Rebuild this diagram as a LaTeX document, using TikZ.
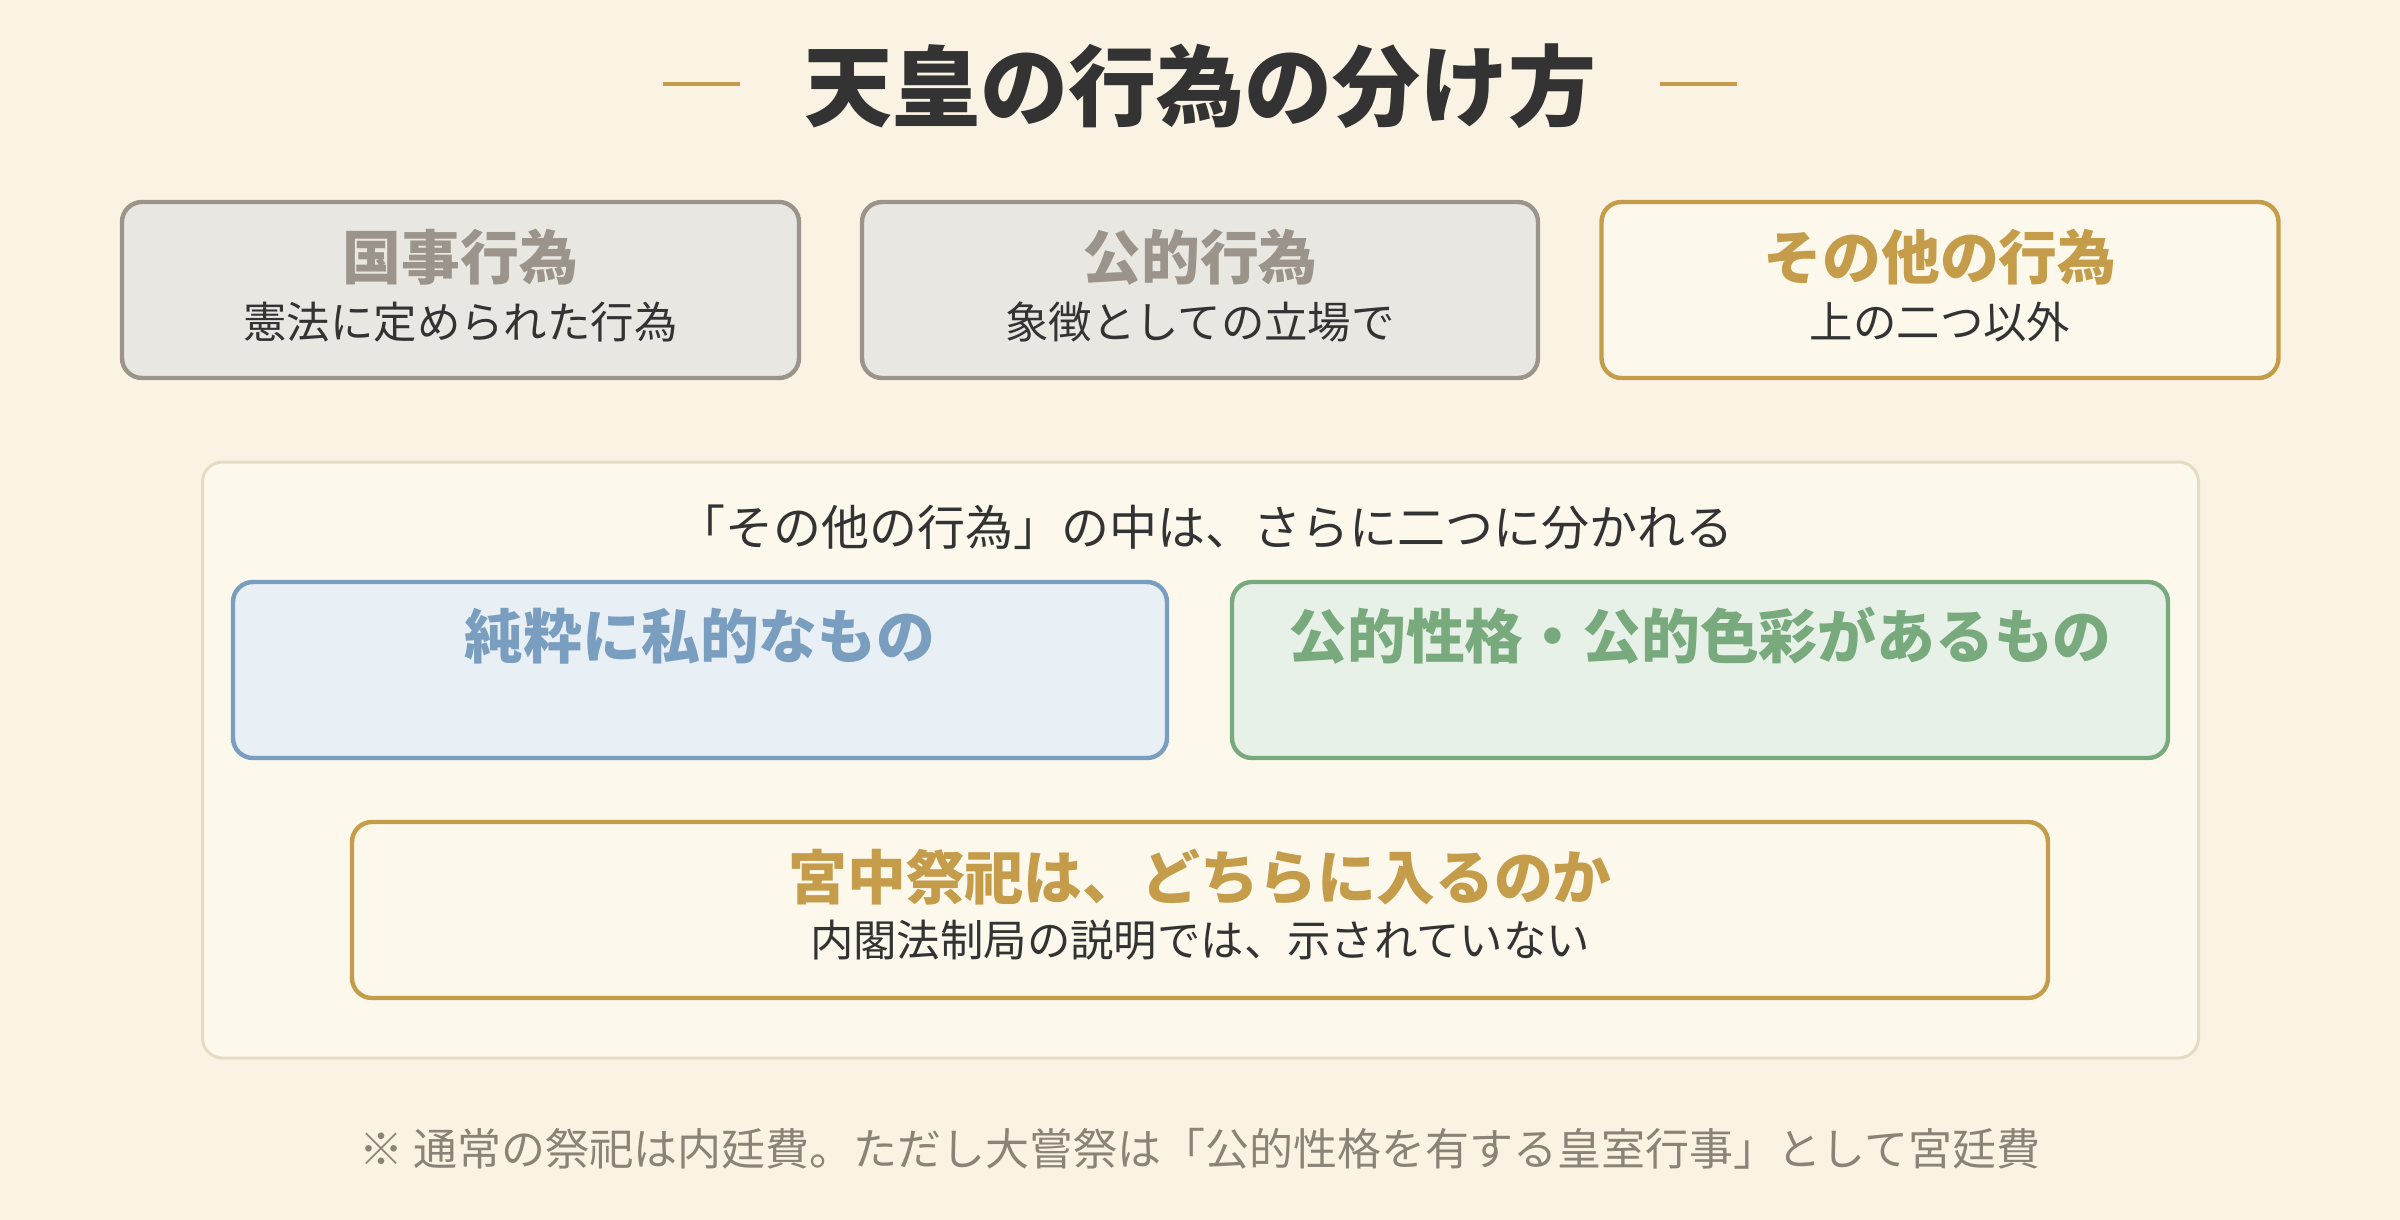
\documentclass[tikz,border=0pt]{standalone}
\usepackage{fontspec}
\setmainfont{Noto Sans CJK JP}
\definecolor{bg}{HTML}{FAF3E3}
\definecolor{ink}{HTML}{333333}
\definecolor{gold}{HTML}{C49C4A}
\definecolor{goldfill}{HTML}{FDF8EC}
\definecolor{grayline}{HTML}{9A948A}
\definecolor{grayfill}{HTML}{E9E7E2}
\definecolor{panelline}{HTML}{E6DCC6}
\definecolor{blueline}{HTML}{7A9EBF}
\definecolor{bluefill}{HTML}{E8EFF5}
\definecolor{greenline}{HTML}{78AA7E}
\definecolor{greenfill}{HTML}{E8F1E7}
\definecolor{note}{HTML}{8A8378}
\tikzset{
  card/.style={draw, line width=2.2pt, rounded corners=10pt, inner sep=0pt},
  graycard/.style={card, draw=grayline, fill=grayfill},
  goldcard/.style={card, draw=gold, fill=goldfill},
  bluecard/.style={card, draw=blueline, fill=bluefill},
  greencard/.style={card, draw=greenline, fill=greenfill},
  panel/.style={draw=panelline, fill=goldfill, line width=1.5pt, rounded corners=10pt, inner sep=0pt},
  head/.style={font=\fontsize{29.4}{34}\selectfont\bfseries, inner sep=0pt},
  sub/.style={font=\fontsize{21.7}{26}\selectfont, text=ink, inner sep=0pt},
  dashline/.style={draw=gold, line width=1.6pt},
}
\begin{document}
\begin{tikzpicture}[x=0.5pt,y=-0.5pt]
\fill[bg] (0,0) rectangle (2400,1220);
\useasboundingbox (0,0) rectangle (2400,1220);
% title
\node[font=\fontsize{44}{52}\selectfont\bfseries, text=ink, inner sep=0pt] (title) at (1200,86) {天皇の行為の分け方};
\coordinate (dl1) at (663,84); \coordinate (dl2) at (740,84);
\coordinate (dr1) at (1660,84); \coordinate (dr2) at (1737,84);
\draw[dashline] (dl1) -- (dl2);
\draw[dashline] (dr1) -- (dr2);
% top cards
\node[graycard, minimum width=338.5pt, minimum height=88pt] (b1) at (460.5,290) {};
\node[graycard, minimum width=338pt, minimum height=88pt] (b2) at (1200,290) {};
\node[goldcard, minimum width=338.5pt, minimum height=88pt] (b3) at (1940,290) {};
\node[head, text=grayline] (b1h) at (460.5,257) {国事行為};
\node[sub] (b1s) at (460.5,322) {憲法に定められた行為};
\node[head, text=grayline] (b2h) at (1200,257) {公的行為};
\node[sub] (b2s) at (1200,322) {象徴としての立場で};
\node[head, text=gold] (b3h) at (1940,257) {その他の行為};
\node[sub] (b3s) at (1940,322) {上の二つ以外};
% panel
\node[panel, minimum width=998pt, minimum height=298pt] (panel) at (1200.5,760) {};
\node[font=\fontsize{24}{28}\selectfont, text=ink, inner sep=0pt] (ptext) at (1205,527) {「その他の行為」の中は、さらに二つに分かれる};
\node[bluecard, minimum width=467pt, minimum height=88pt] (blue) at (700,670) {};
\node[greencard, minimum width=468pt, minimum height=88pt] (green) at (1700,670) {};
\node[head, text=blueline] (blueh) at (700,636) {純粋に私的なもの};
\node[head, text=greenline] (greenh) at (1700,636) {公的性格・公的色彩があるもの};
\node[goldcard, minimum width=848pt, minimum height=88pt] (gq) at (1200,910) {};
\node[head, text=gold] (gqh) at (1200,877) {宮中祭祀は、どちらに入るのか};
\node[sub] (gqs) at (1200,940) {内閣法制局の説明では、示されていない};
% footnote
\node[font=\fontsize{22}{26}\selectfont, text=note, inner sep=0pt] (foot) at (1200,1149) {※ 通常の祭祀は内廷費。ただし大嘗祭は「公的性格を有する皇室行事」として宮廷費};
\end{tikzpicture}
\end{document}
